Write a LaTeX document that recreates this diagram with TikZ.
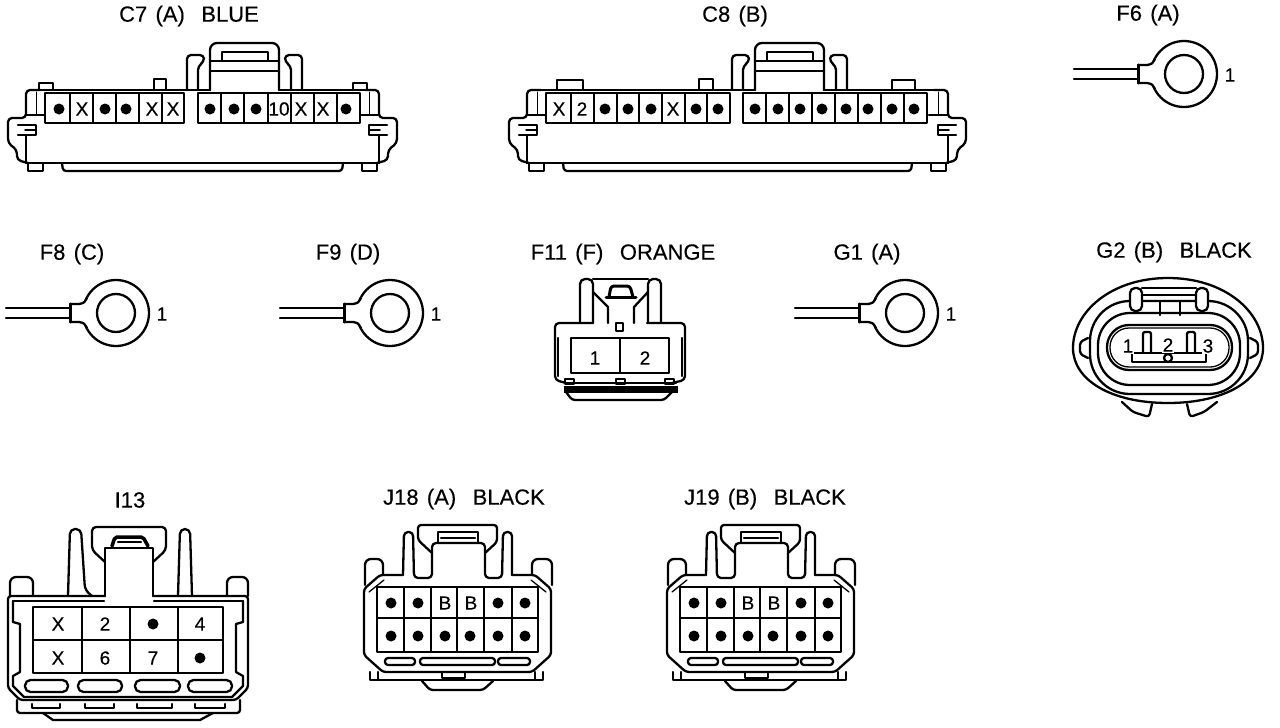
\documentclass[tikz,border=0pt]{standalone}
\usepackage{fontspec}
\setmainfont[WordSpace=1.35,FakeBold=0.35]{Liberation Sans}

\begin{document}
\begin{tikzpicture}[
  x=1pt, y=-1pt, line width=2.3pt,
  every path/.style={line cap=round, line join=round},
  title/.style={font=\fontsize{22}{22}\selectfont, inner sep=0pt},
  pintext/.style={font=\fontsize{19}{19}\selectfont, inner sep=0pt},
  pindot/.style={circle, fill=black, inner sep=0pt, minimum size=11pt}
]
\useasboundingbox (0,0) rectangle (1280,728);

% ---------------- Titles ----------------
\node[title] (tC7) at (189,16) {C7 (A)\ \ BLUE};
\node[title] (tC8) at (735,16) {C8 (B)};
\node[title] (tF6) at (1148,15) {F6 (A)};
\node[title] (tF8) at (72,254) {F8 (C)};
\node[title] (tF9) at (348,254) {F9 (D)};
\node[title] (tF11) at (623,254) {F11 (F)\ \ ORANGE};
\node[title] (tG1) at (867,254) {G1 (A)};
\node[title] (tG2) at (1174,252) {G2 (B)\ \ BLACK};
\node[title] (tI13) at (130,500) {I13};
\node[title] (tJ18) at (464,499) {J18 (A)\ \ BLACK};
\node[title] (tJ19) at (765,499) {J19 (B)\ \ BLACK};

% ---------------- Wide connectors C7, C8 ----------------
\foreach \L/\R/\K in {26/379/210, 527/948/755} {
  % both ends, mirrored
  \foreach \E/\s in {\L/1, \R/-1} {
    \draw[rounded corners=4pt] ({\E+\s*14},90) -- (\E,90) -- (\E,118) -- ({\E-\s*18},118)
      -- ({\E-\s*18},143) -- ({\E-\s*9},150) -- ({\E-\s*9},160) -- ({\E+\s*2},163);
    \draw (\E,135) -- (\E,163);
    \draw (\E,115) -- ({\E+\s*19},115);
    \draw[line width=1pt] ({\E+\s*10},92) -- ({\E+\s*10},115);
    \draw ({\E-\s*8},125) -- ({\E+\s*10},125) -- ({\E+\s*10},135) -- ({\E-\s*8},135);
    \draw[line width=1.5pt] ({\E-\s*1},130) -- ({\E+\s*9},130);
  }
  % top edge, bottom edge and tray
  \draw (\L+14,90) -- (\K,90);
  \draw (\K+69,90) -- (\R-14,90);
  \draw (\L,163) -- (\R,163);
  \draw[rounded corners=3pt] (\L+36,163) -- (\L+37,171) -- (\R-37,171) -- (\R-36,163);
  \draw (\L+2,163) -- (\L+2,171) -- (\L+17,171) -- (\L+17,163);
  \draw (\R-17,163) -- (\R-17,171) -- (\R-2,171) -- (\R-2,163);
  % lock
  \draw[rounded corners=7pt] (\K,90) -- (\K,43) -- (\K+69,43) -- (\K+69,90);
  \draw (\K,61) -- (\K+69,61);
  \draw (\K,71) -- (\K+69,71);
  \draw (\K+12,61) -- (\K+12,52) -- (\K+58,52) -- (\K+58,61);
  \draw[rounded corners=4pt] (\K-23,90) -- (\K-23,55) -- (\K-6,55) -- (\K-6,62) -- (\K-12,66) -- (\K-12,90);
  \draw[rounded corners=4pt] (\K+92,90) -- (\K+92,55) -- (\K+75,55) -- (\K+75,62) -- (\K+81,66) -- (\K+81,90);
}
% small tabs on the top edge
\foreach \a/\b/\t in {39/53/83, 154/166/79, 353/367/83, 557/583/80, 699/713/79, 892/915/80}
  \draw (\a,90) -- (\a,\t) -- (\b,\t) -- (\b,90);

% pin blocks C7
\draw (45,93) rectangle (184,123);
\draw (198,93) rectangle (360,123);
\foreach \x in {70,93,116,139,162,221,244,268,291,314,337}
  \draw (\x,93) -- (\x,123);
\foreach \x in {59,105,126,210,234,256,346}
  \node[pindot] (cSd\x) at (\x,109) {};
\foreach \x/\t in {82/X,152/X,173/X,279/10,301/X,323/X}
  \node[pintext] (cSt\x) at (\x,109) {\t};

% pin blocks C8
\draw (546,93) rectangle (730,123);
\draw (743,93) rectangle (927,123);
\foreach \x in {571,594,617,639,662,685,707,766,789,812,835,858,881,904}
  \draw (\x,93) -- (\x,123);
\foreach \x in {605,628,651,696,718,755,778,800,822,846,868,892,914}
  \node[pindot] (cEd\x) at (\x,109) {};
\foreach \x/\t in {559/X,582/2,673/X}
  \node[pintext] (cEt\x) at (\x,109) {\t};

% ---------------- Ring terminals ----------------
\foreach \cx/\cy/\rname in {1184/74/rF, 116/313/rE, 390/313/rN, 905/313/rG} {
  \draw (\cx,\cy) circle [radius=33pt];
  \draw (\cx,\cy) circle [radius=19pt];
  \draw (\cx-110,\cy-5) -- (\cx-46,\cy-5);
  \draw (\cx-110,\cy+5) -- (\cx-46,\cy+5);
  \fill[white] (\cx-36,\cy-9) -- (\cx-28,\cy-16) -- (\cx-28,\cy+16) -- (\cx-36,\cy+9) -- cycle;
  \draw (\cx-29,\cy-15) .. controls (\cx-32,\cy-10) .. (\cx-37,\cy-9) -- (\cx-46,\cy-9);
  \draw (\cx-29,\cy+15) .. controls (\cx-32,\cy+10) .. (\cx-37,\cy+9) -- (\cx-46,\cy+9);
  \draw[line width=3pt] (\cx-46,\cy-9) -- (\cx-46,\cy+9);
  \node[pintext] (\rname) at (\cx+46,\cy+1) {1};
}

% ---------------- F11 ----------------
\draw[rounded corners=4pt] (593,323) -- (555,323) -- (555,380) -- (566,383);
\draw[rounded corners=4pt] (647,323) -- (685,323) -- (685,380) -- (672,383);
\draw (558,338) -- (558,376);
\draw (682,338) -- (682,376);
\draw (571,338) rectangle (669,373);
\draw (620,338) -- (620,373);
\node[pintext] (f11a) at (595,358) {1};
\node[pintext] (f11b) at (645,358) {2};
\draw (616,323) rectangle (623,331);
\draw[line width=7pt, line cap=butt] (564,389) -- (678,389);
\draw[rounded corners=3pt] (566,392) -- (572,400) -- (664,400) -- (672,392);
\draw (566,383) -- (676,383);
\foreach \x in {565,616,665}
  \draw (\x,379) rectangle (\x+9,384);
% wings and lock
\draw[rounded corners=5pt] (580,323) -- (580,279) -- (593,279) -- (593,323);
\draw[rounded corners=5pt] (648,323) -- (648,279) -- (661,279) -- (661,323);
\draw (593,279) -- (648,279);
\draw (593,292) -- (608,307) -- (608,323);
\draw (648,292) -- (634,307) -- (634,323);
\draw[line width=3pt] (606,297) -- (636,297);
\draw[line width=3pt, rounded corners=3pt] (609,297) -- (611,286) -- (630,286) -- (633,297);

% ---------------- G2 ----------------
\draw (1168,278) .. controls (1225,278) and (1263,312) .. (1263,348)
  .. controls (1263,380) and (1225,403) .. (1168,403)
  .. controls (1111,403) and (1073,380) .. (1073,348)
  .. controls (1073,312) and (1111,278) .. cycle;
\draw[rounded corners=40pt, fill=white] (1090,301) rectangle (1248,394);
\draw[rounded corners=32pt] (1098,313) rectangle (1240,385);
\draw[rounded corners=22pt] (1107,325) rectangle (1232,370);
\draw[line width=1.3pt, rounded corners=19pt] (1110,328) rectangle (1229,367);
% ears
\draw[rounded corners=3pt, fill=white] (1088,338) -- (1080,342) -- (1080,354) -- (1088,358);
\draw[rounded corners=3pt, fill=white] (1250,338) -- (1258,342) -- (1258,354) -- (1250,358);
% top latch
\draw[rounded corners=5pt, fill=white] (1130,288) rectangle (1142,311);
\draw[rounded corners=5pt, fill=white] (1196,288) rectangle (1208,311);
\draw (1142,288) -- (1196,288);
\draw (1142,295) -- (1196,295);
\draw (1160,302) -- (1160,315);
\draw (1180,302) -- (1180,315);
% feet
\draw[rounded corners=3pt] (1122,402) -- (1133,412) -- (1149,417) -- (1152,404);
\draw[rounded corners=3pt] (1187,404) -- (1190,417) -- (1204,412) -- (1217,402);
% pins
\draw[rounded corners=2pt] (1143,352) -- (1143,332) -- (1151,332) -- (1151,352);
\draw[rounded corners=2pt] (1187,352) -- (1187,332) -- (1195,332) -- (1195,352);
\draw (1132,353) -- (1206,353);
\draw (1132,353) -- (1132,362) -- (1206,362) -- (1206,353);
\draw[fill=white] (1168,358) circle [radius=4pt];
\node[pintext, fill=white, inner sep=1pt] (g2a) at (1128,346) {1};
\node[pintext, fill=white, inner sep=1pt] (g2b) at (1168,345) {2};
\node[pintext, fill=white, inner sep=1pt] (g2c) at (1208,346) {3};

% ---------------- I13 ----------------
\draw[rounded corners=3pt] (105,596) -- (8,596) -- (8,688) -- (20,700) -- (236,700) -- (248,688) -- (248,596) -- (153,596);
\draw (13,601) -- (104,601);
\draw (154,601) -- (243,601);
\draw (13,601) -- (13,622) -- (20,624) -- (20,672) -- (13,676) -- (13,686) -- (24,697) -- (232,697) -- (243,686) -- (243,676) -- (236,672) -- (236,624) -- (243,622) -- (243,601);
\draw[rounded corners=3pt] (17,700) -- (17,713) -- (240,713) -- (240,700);
\draw (43,713) -- (53,720) -- (200,720) -- (213,713);
\foreach \a/\b in {32/60, 85/114, 137/172, 195/225}
  \draw (\a,704) -- (\a,708) -- (\b,708) -- (\b,704);
\draw (33,607) rectangle (223,673);
\draw (33,640) -- (223,640);
\foreach \x in {82,130,178}
  \draw (\x,607) -- (\x,673);
\foreach \x/\y/\t in {58/624/X, 105/624/2, 200/624/4, 58/658/X, 105/658/6, 153/658/7}
  \node[pintext] (iT\x\y) at (\x,\y) {\t};
\node[pindot] (iD1) at (153,624) {};
\node[pindot] (iD2) at (200,658) {};
\foreach \a/\b in {25/68, 78/122, 135/180, 188/232}
  \draw[rounded corners=5.5pt] (\a,680) rectangle (\b,692);
% posts, wings and lock
\draw[rounded corners=6pt] (10,596) -- (10,577) -- (33,577) -- (33,596);
\draw[rounded corners=6pt] (227,596) -- (227,577) -- (248,577) -- (248,596);
\draw[rounded corners=5pt] (68,596) -- (70,529) -- (81,529) -- (85,590) -- (92,596);
\draw[rounded corners=5pt] (178,596) -- (180,529) -- (190,529) -- (192,596);
\draw (105,596) -- (105,548) -- (153,548) -- (153,596);
\draw[rounded corners=4pt] (105,562) -- (92,550) -- (92,527) -- (166,527) -- (166,550) -- (153,562);
\draw[line width=3.5pt, rounded corners=2pt] (112,546) -- (115,537) -- (143,537) -- (148,546);
\draw (118,542) -- (141,542);

% ---------------- J18, J19 ----------------
\foreach \dx/\jn in {0/A, 303/B} {
  \begin{scope}[shift={(\dx,0)}]
    \draw[rounded corners=3pt] (403,575) -- (380,575) -- (364,589) -- (364,655) -- (383,672) -- (532,672) -- (551,655) -- (551,589) -- (535,575) -- (512,575);
    \draw[line width=1.3pt] (384,580) -- (369,592);
    \draw[line width=1.3pt] (531,580) -- (546,592);
    \draw (377,587) rectangle (538,652);
    \draw (377,618) -- (538,618);
    \foreach \x in {404,431,457,484,512}
      \draw (\x,587) -- (\x,652);
    \foreach \x in {391,418,498,525}
      \node[pindot] (jD\jn\x) at (\x,603) {};
    \foreach \x in {391,418,445,470,498,525}
      \node[pindot] (jU\jn\x) at (\x,636) {};
    \foreach \x in {445,471}
      \node[pintext] (jT\jn\x) at (\x,603) {B};
    % slots and lower strip
    \draw[rounded corners=3pt] (385,658) rectangle (415,665);
    \draw[rounded corners=3pt] (420,658) rectangle (495,665);
    \draw[rounded corners=3pt] (498,658) rectangle (530,665);
    \draw (370,672) -- (370,680) -- (543,680) -- (543,672);
    \draw (378,672) -- (378,680);
    \draw (535,672) -- (535,680);
    \draw (442,672) -- (442,678) -- (465,678) -- (465,672);
    \draw[rounded corners=3pt] (422,681) -- (430,690) -- (483,690) -- (493,681);
    % posts, wings and lock
    \draw[rounded corners=6pt] (365,585) -- (365,559) -- (383,559) -- (383,575);
    \draw[rounded corners=6pt] (532,575) -- (532,559) -- (552,559) -- (552,585);
    \draw[rounded corners=4pt] (403,575) -- (404,532) -- (413,532) -- (414,578) -- (432,578) -- (432,543) -- (485,543) -- (485,578) -- (502,578) -- (503,532) -- (512,532) -- (512,575);
    \draw[rounded corners=3pt] (432,553) -- (418,540) -- (418,525) -- (497,525) -- (497,542) -- (485,553);
    \draw (438,543) -- (438,532) -- (478,532) -- (478,543);
    \draw (441,538) -- (475,538);
  \end{scope}
}
\end{tikzpicture}
\end{document}
